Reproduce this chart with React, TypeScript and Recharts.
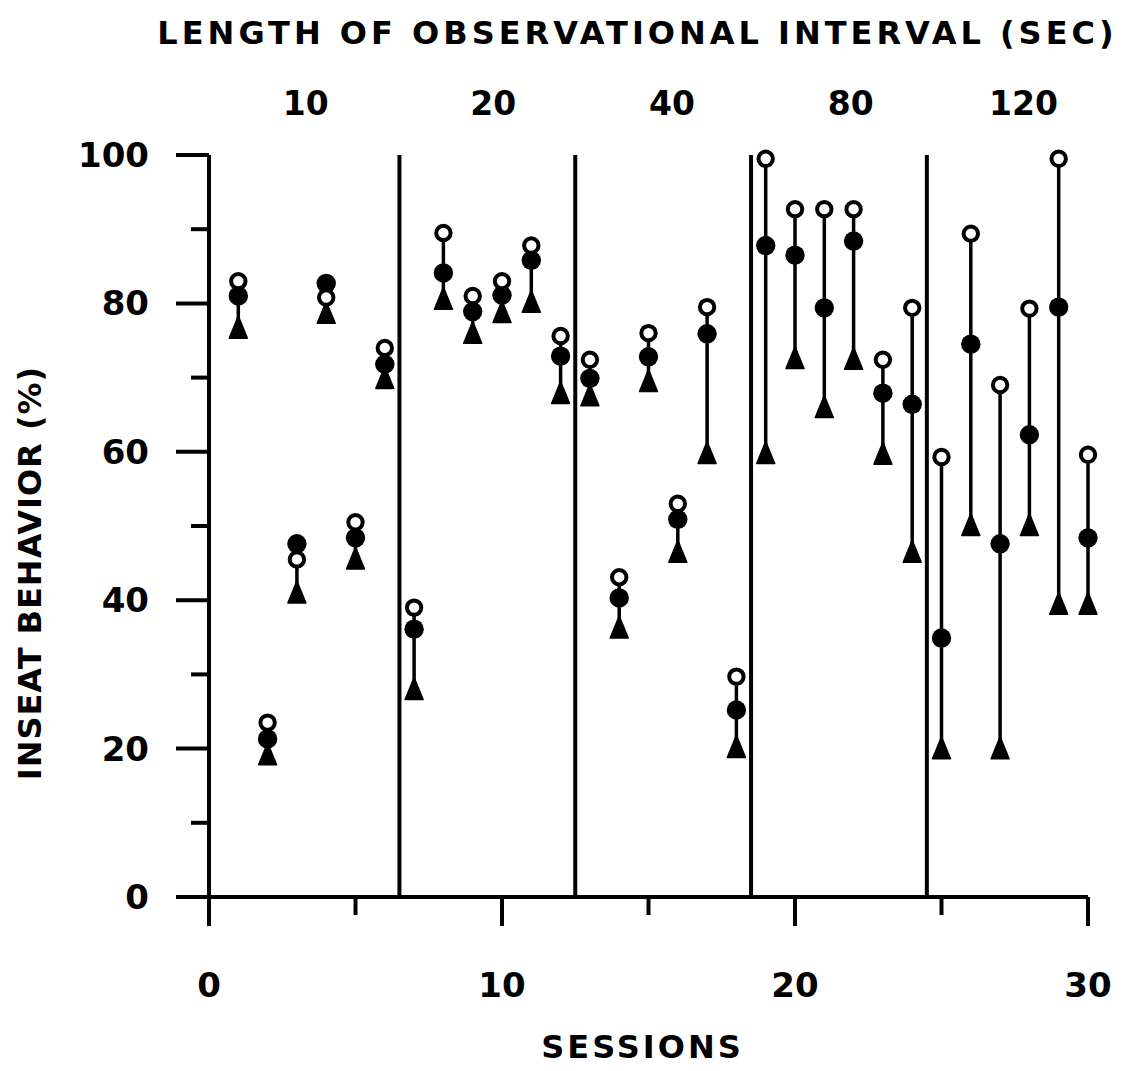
import { ComposedChart, Scatter, XAxis, YAxis, ReferenceLine, ErrorBar, Label } from "recharts"

// one reading per session: open circle, filled circle, triangle (percent of intervals)
const sessions = [1, 2, 3, 4, 5, 6, 7, 8, 9, 10, 11, 12, 13, 14, 15, 16, 17, 18, 19, 20, 21, 22, 23, 24, 25, 26, 27, 28, 29, 30]
const openPct = [83, 23.5, 45.5, 80.8, 50.5, 74, 39, 89.5, 81, 83, 87.8, 75.6, 72.4, 43.1, 76, 53, 79.5, 29.7, 99.5, 92.7, 92.7, 92.7, 72.4, 79.4, 59.3, 89.4, 69, 79.3, 99.5, 59.6]
const filledPct = [81, 21.3, 47.6, 82.7, 48.4, 71.8, 36.1, 84.1, 78.9, 81.1, 85.8, 72.9, 69.9, 40.3, 72.8, 50.9, 75.9, 25.2, 87.8, 86.5, 79.4, 88.4, 67.9, 66.4, 34.9, 74.5, 47.6, 62.3, 79.5, 48.4]
const trianglePct = [76.3, 18.8, 40.6, 78.3, 45.2, 69.5, 27.6, 80.2, 75.6, 78.4, 79.8, 67.5, 67.2, 35.9, 69.1, 46.1, 59.4, 19.8, 59.4, 72.2, 65.6, 72.1, 59.3, 46.1, 19.6, 49.7, 19.6, 49.7, 39.1, 39.1]

const phaseBreaks = [6.5, 12.5, 18.5, 24.5]
const phaseLabels = ["10", "20", "40", "80", "120"]
const phaseLabelAt = [3.3, 9.7, 15.8, 21.9, 27.8]
const xTicks = [0, 5, 10, 15, 20, 25, 30]
const yTicks = [0, 10, 20, 30, 40, 50, 60, 70, 80, 90, 100]

const FONT = "'DejaVu Sans', sans-serif"

const data = sessions.map((s, i) => ({
  session: s,
  open: openPct[i],
  filled: filledPct[i],
  tri: trianglePct[i],
  // stem from the triangle up to the highest marker
  stem: [0, Math.max(openPct[i], filledPct[i]) - trianglePct[i]],
}))

const textStyle = { fontFamily: FONT, fontWeight: "bold" as const, fill: "#000" }

function BottomTick({ x, y, payload }: any) {
  const major = payload.value % 10 === 0
  return (
    <g>
      <line x1={x} x2={x} y1={y} y2={y + (major ? 29 : 18)} stroke="#000" strokeWidth={4} />
      {major && (
        <text x={x} y={y + 88} textAnchor="middle" dominantBaseline="central" fontSize={34} {...textStyle}>
          {payload.value}
        </text>
      )}
    </g>
  )
}

function LeftTick({ x, y, payload }: any) {
  const major = payload.value % 20 === 0
  return (
    <g>
      <line x1={x} x2={x - (major ? 33 : 18)} y1={y} y2={y} stroke="#000" strokeWidth={4} />
      {major && (
        <text x={x - 60} y={y} textAnchor="end" dominantBaseline="central" fontSize={34} {...textStyle}>
          {payload.value}
        </text>
      )}
    </g>
  )
}

function TopTick({ x, y, index }: any) {
  return (
    <text x={x} y={y - 52} textAnchor="middle" dominantBaseline="central" fontSize={33} {...textStyle}>
      {phaseLabels[index]}
    </text>
  )
}

function TitleLabel({ viewBox }: any) {
  return (
    <text x={viewBox.x + viewBox.width / 2 - 11} y={viewBox.y + 33} textAnchor="middle" dominantBaseline="central" fontSize={32} letterSpacing={4} {...textStyle}>
      LENGTH OF OBSERVATIONAL INTERVAL (SEC)
    </text>
  )
}

function SessionsLabel({ viewBox }: any) {
  return (
    <text x={viewBox.x + viewBox.width / 2 - 6} y={viewBox.y + 150} textAnchor="middle" dominantBaseline="central" fontSize={32} letterSpacing={3} {...textStyle}>
      SESSIONS
    </text>
  )
}

function YTitle({ viewBox }: any) {
  const cx = viewBox.x + 30
  const cy = viewBox.y + viewBox.height / 2 + 47
  return (
    <text x={cx} y={cy} transform={`rotate(-90, ${cx}, ${cy})`} textAnchor="middle" dominantBaseline="central" fontSize={32} letterSpacing={1} {...textStyle}>
      INSEAT BEHAVIOR (%)
    </text>
  )
}

const OpenDot = ({ cx, cy }: any) => <circle cx={cx} cy={cy} r={7.2} fill="#fff" stroke="#000" strokeWidth={4} />
const FilledDot = ({ cx, cy }: any) => <circle cx={cx} cy={cy} r={9.7} fill="#000" />
const TriangleDot = ({ cx, cy }: any) => (
  <path d={`M${cx},${cy - 14.7} L${cx + 9},${cy + 7.3} L${cx - 9},${cy + 7.3} Z`} fill="#000" stroke="#000" strokeWidth={1.5} strokeLinejoin="round" />
)

export default function App() {
  return (
    <div style={{ position: "absolute", left: 0, top: 0, background: "#fff" }}>
      <ComposedChart width={1130} height={1071} data={data} margin={{ top: 0, right: 42, bottom: 0, left: 0 }}>
        <XAxis
          xAxisId="top"
          orientation="top"
          type="number"
          dataKey="session"
          domain={[0, 30]}
          ticks={phaseLabelAt}
          interval={0}
          height={155}
          axisLine={false}
          tickLine={false}
          tickSize={0}
          tickMargin={0}
          tick={<TopTick />}
        >
          <Label content={<TitleLabel />} />
        </XAxis>
        <XAxis
          xAxisId="bottom"
          type="number"
          dataKey="session"
          domain={[0, 30]}
          ticks={xTicks}
          interval={0}
          height={174}
          axisLine={{ stroke: "#000", strokeWidth: 4 }}
          tickLine={false}
          tickSize={0}
          tickMargin={0}
          tick={<BottomTick />}
        >
          <Label content={<SessionsLabel />} />
        </XAxis>
        <YAxis
          type="number"
          domain={[0, 100]}
          ticks={yTicks}
          interval={0}
          width={209}
          axisLine={{ stroke: "#000", strokeWidth: 4 }}
          tickLine={false}
          tickSize={0}
          tickMargin={0}
          tick={<LeftTick />}
        >
          <Label content={<YTitle />} />
        </YAxis>
        {phaseBreaks.map((b) => (
          <ReferenceLine key={b} xAxisId="bottom" x={b} stroke="#000" strokeWidth={4} />
        ))}
        <Scatter xAxisId="bottom" dataKey="tri" shape={<TriangleDot />} isAnimationActive={false}>
          <ErrorBar dataKey="stem" direction="y" width={0} stroke="#000" strokeWidth={3.5} isAnimationActive={false} />
        </Scatter>
        <Scatter xAxisId="bottom" dataKey="filled" shape={<FilledDot />} isAnimationActive={false} />
        <Scatter xAxisId="bottom" dataKey="open" shape={<OpenDot />} isAnimationActive={false} />
      </ComposedChart>
    </div>
  )
}
